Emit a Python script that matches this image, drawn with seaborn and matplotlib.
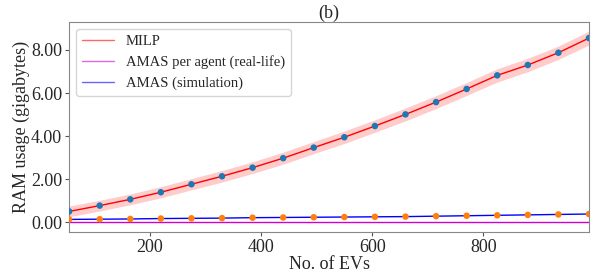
import matplotlib
matplotlib.use("Agg")
import matplotlib.pyplot as plt
import seaborn as sns
import numpy as np
import pandas as pd
from matplotlib.ticker import FormatStrFormatter

n_evs = [55, 110, 165, 220, 275, 330, 385, 440, 495, 550, 605, 660, 715, 770, 825, 880, 935, 990]
milp = [0.51, 0.78, 1.07, 1.40, 1.77, 2.14, 2.54, 2.98, 3.47, 3.95, 4.47, 5.01, 5.58, 6.19, 6.82, 7.30, 7.87, 8.55]
milp_band = [0.25, 0.25, 0.25, 0.26, 0.26, 0.27, 0.27, 0.28, 0.28, 0.29, 0.29, 0.30, 0.30, 0.30, 0.31, 0.31, 0.31, 0.32]
amas_agent = [0.003] * 18
amas_sim = [0.14, 0.15, 0.16, 0.18, 0.19, 0.20, 0.22, 0.23, 0.24, 0.25, 0.26, 0.27, 0.29, 0.31, 0.33, 0.35, 0.37, 0.39]

df = pd.DataFrame({"n": n_evs, "milp": milp, "agent": amas_agent, "sim": amas_sim})

sns.set_style("ticks")
plt.rcParams['font.family'] = ['Liberation Serif', 'DejaVu Serif']
plt.rcParams['mathtext.fontset'] = 'stix'

fig = plt.figure(figsize=(6.01, 2.77), dpi=100)
ax = fig.add_axes([0.115, 0.162, 0.865, 0.759])

lo = np.array(milp) - np.array(milp_band)
hi = np.array(milp) + np.array(milp_band)
ax.fill_between(n_evs, lo, hi, color="red", alpha=0.2, linewidth=0)
sns.lineplot(data=df, x="n", y="milp", color="red", lw=1, ax=ax, label="MILP")
sns.lineplot(data=df, x="n", y="agent", color="#d000d0", lw=1, ax=ax, label="AMAS per agent (real-life)")
sns.lineplot(data=df, x="n", y="sim", color="blue", lw=1, ax=ax, label="AMAS (simulation)")
sns.scatterplot(data=df, x="n", y="milp", color="#1f77b4", s=22, edgecolor="none", ax=ax, zorder=5)
sns.scatterplot(data=df, x="n", y="sim", color="#ff7f0e", s=22, edgecolor="none", ax=ax, zorder=5)

ax.set_xlim(55, 990)
ax.set_ylim(-0.45, 9.3)
ax.set_xticks([200, 400, 600, 800])
ax.set_yticks([0, 2, 4, 6, 8])
ax.yaxis.set_major_formatter(FormatStrFormatter('%.2f'))
ax.tick_params(labelsize=13, length=3, color="#555555", pad=2)
for s in ax.spines.values():
    s.set_color("#888888")
ax.set_xlabel("No. of EVs", fontsize=13, labelpad=0)
ax.set_ylabel("RAM usage (gigabytes)", fontsize=13, labelpad=1)
ax.set_title("(b)", fontsize=13, pad=3)

leg = ax.legend(loc="upper left", fontsize=10.5, frameon=True, handlelength=2.2)
for h in leg.legend_handles:
    h.set_alpha(0.6)

fig.savefig("out.png", dpi=100)
